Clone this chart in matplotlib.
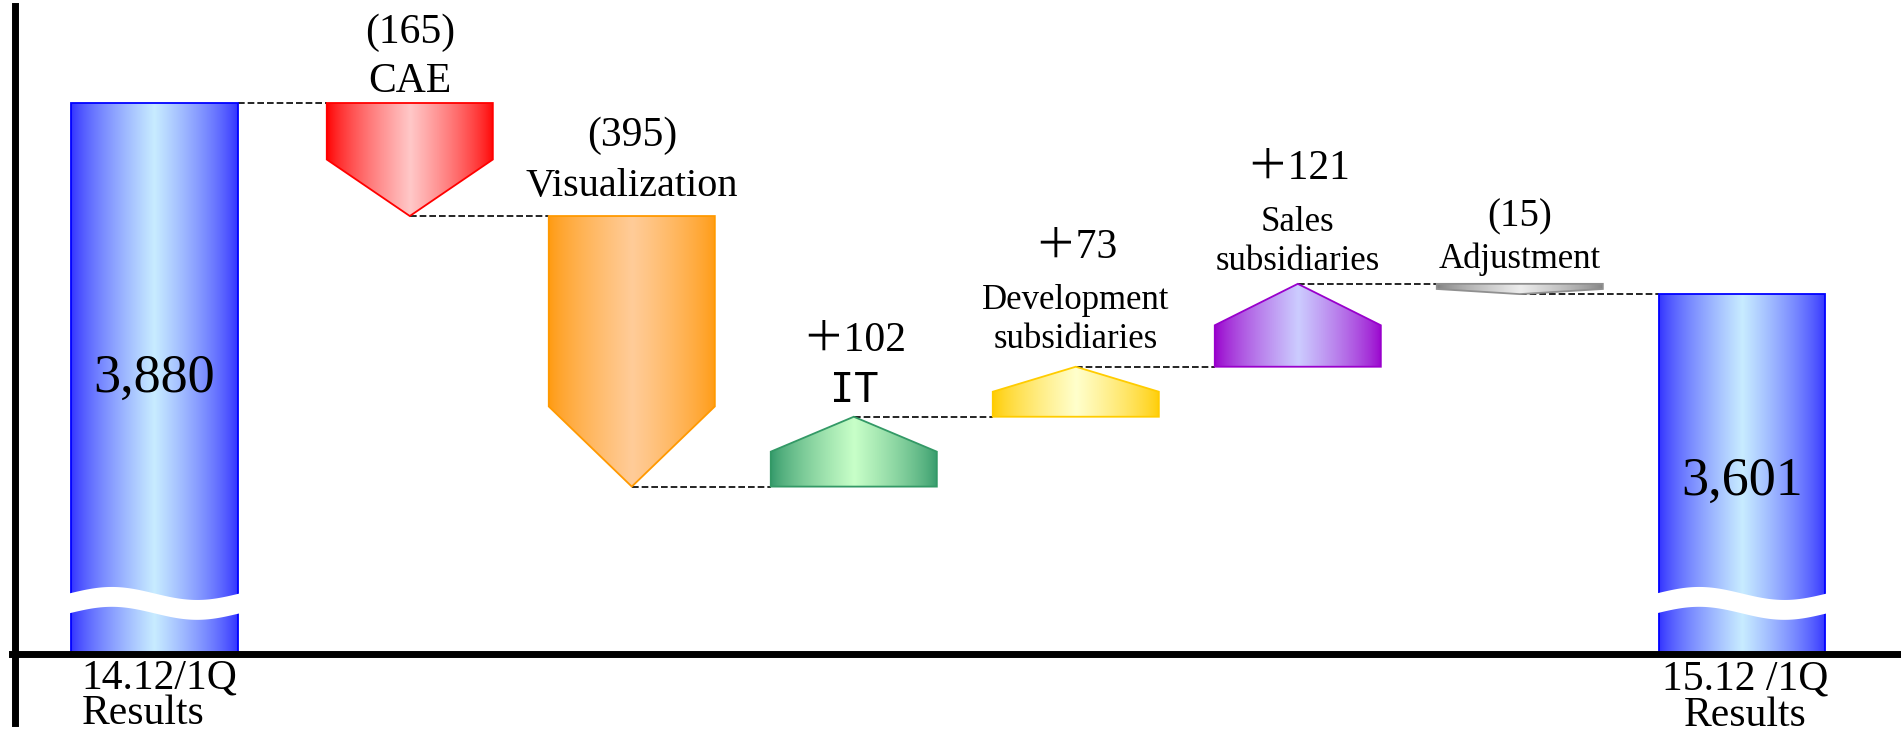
import numpy as np
import matplotlib
matplotlib.use("Agg")
import matplotlib.pyplot as plt
from matplotlib.patches import Polygon
from matplotlib.colors import to_rgb

plt.rcParams['font.family'] = ['Liberation Serif', 'Noto Sans CJK JP']

# data
start_label = ["14.12/1Q", "Results"]
end_label = ["15.12 /1Q", "Results"]
start_value = 3880
end_value = 3601
steps = ["CAE", "Visualization", "IT", "Development\nsubsidiaries",
         "Sales\nsubsidiaries", "Adjustment"]
deltas = [-165, -395, 102, 73, 121, -15]

# styles
total_edge, total_center = "#3030ff", "#c8ecff"
step_edge = ["#ff0000", "#ff9a10", "#33996a", "#ffcc00", "#9900cc", "#808080"]
step_center = ["#ffc8c8", "#ffcc99", "#c8ffc8", "#ffffcc", "#ccccff", "#ececec"]
step_line = ["#ff0000", "#ff9900", "#339966", "#ffcc00", "#9900cc", "#909090"]

name_off = [21, 30, 26, 47, 42, 25]      # px above anchor
value_off = [70, 80, 76, 119, 115, 67]
name_size = [30, 29, 29, 25, 25, 25]
value_size = [30, 30, 30, 30, 30, 28]

W, H, DPI = 1901, 734, 100
PX = 72 / DPI                      # points per pixel
BASE = 3076                        # broken-axis floor
xs = [0] + [i + 0.15 for i in range(1, 8)]
bw = 0.748

fig = plt.figure(figsize=(W / DPI, H / DPI), dpi=DPI)
ax = fig.add_axes([0, 0, 1, 1])
ax.set_axis_off()


def gradient_patch(verts, edge, center, line):
    poly = Polygon(verts, closed=True, fill=False, edgecolor=line, lw=1.3, zorder=3)
    ax.add_patch(poly)
    verts = np.asarray(verts)
    t = np.linspace(0, 1, 256)
    m = (1 - np.abs(2 * t - 1)) ** 0.75
    e, c = np.array(to_rgb(edge)), np.array(to_rgb(center))
    row = e + (c - e) * m[:, None]
    img = np.repeat(row[None, :, :], 2, axis=0)
    im = ax.imshow(img, extent=[verts[:, 0].min(), verts[:, 0].max(),
                                verts[:, 1].min(), verts[:, 1].max()],
                   aspect='auto', interpolation='bilinear', zorder=2)
    im.set_clip_path(poly)


def total_bar(x, value):
    x0, x1 = x - bw / 2, x + bw / 2
    gradient_patch([(x0, BASE), (x1, BASE), (x1, value), (x0, value)],
                   total_edge, total_center, "#0000ff")
    # wavy break near the floor
    t = np.linspace(0, 1, 100)
    wx = x0 - 0.01 + t * (bw + 0.02)
    top = BASE + 88 + 9.5 * np.sin(2 * np.pi * t)
    ax.fill(np.r_[wx, wx[::-1]], np.r_[top, (top - 29)[::-1]],
            color="white", lw=0, zorder=4)


def step_shape(x, lo, hi, down, edge, center, line):
    x0, x1 = x - bw / 2, x + bw / 2
    tip = min(0.5 * (hi - lo), 117)
    if down:
        verts = [(x0, hi), (x1, hi), (x1, lo + tip), (x, lo), (x0, lo + tip)]
    else:
        verts = [(x0, lo), (x1, lo), (x1, hi - tip), (x, hi), (x0, hi - tip)]
    gradient_patch(verts, edge, center, line)


def dashed(xa, xb, y):
    ax.plot([xa, xb], [y, y], color="black", lw=1.2, ls=(0, (4, 1.8)), zorder=1)


# opening total
total_bar(xs[0], start_value)
ax.annotate(f"{start_value:,}", (xs[0], start_value), xytext=(0, -276 * PX),
            textcoords="offset points", ha="center", va="center", fontsize=39, zorder=5)

level = start_value
prev_end = xs[0] + bw / 2
for i, (name, d) in enumerate(zip(steps, deltas)):
    x = xs[i + 1]
    new = level + d
    lo, hi = min(level, new), max(level, new)
    dashed(prev_end, x - bw / 2, level)
    step_shape(x, lo, hi, d < 0, step_edge[i], step_center[i], step_line[i])
    anchor = hi
    kw = dict(family=['DejaVu Sans Mono']) if name == "IT" else {}
    ax.annotate(name, (x, anchor), xytext=(0, name_off[i] * PX), textcoords="offset points",
                ha="center", va="center", fontsize=name_size[i], linespacing=1.25, **kw)
    vtxt = f"({-d})" if d < 0 else f"＋{d}"
    ax.annotate(vtxt, (x, anchor), xytext=(0, value_off[i] * PX), textcoords="offset points",
                ha="center", va="center", fontsize=value_size[i])
    level = new
    prev_end = x

# closing total
dashed(prev_end, xs[7] - bw / 2, level)
total_bar(xs[7], end_value)
ax.annotate(f"{end_value:,}", (xs[7], end_value), xytext=(0, -187 * PX),
            textcoords="offset points", ha="center", va="center", fontsize=39, zorder=5)

# category labels under the floor
for j, line in enumerate(start_label):
    ax.annotate(line, (xs[0] - bw / 2, BASE), xytext=(10 * PX, (-25 - 35 * j) * PX),
                textcoords="offset points", ha="left", va="center", fontsize=30)
for j, line in enumerate(end_label):
    ax.annotate(line, (xs[7], BASE), xytext=(3 * PX, (-26 - 36 * j) * PX),
                textcoords="offset points", ha="center", va="center", fontsize=30)

ax.set_xlim(-154.5 / 222, (W - 154.5) / 222)
ax.set_ylim(3880 - 631 / 0.685, 3880 + 103 / 0.685)

# axis lines
ax.axhline(BASE, xmin=12 / W, xmax=1, color="black", lw=5, zorder=6)
ax.axvline(-154.5 / 222 + 15 / 222, ymin=11 / H, ymax=728 / H, color="black", lw=5, zorder=6)

fig.savefig("out.png", dpi=DPI)
